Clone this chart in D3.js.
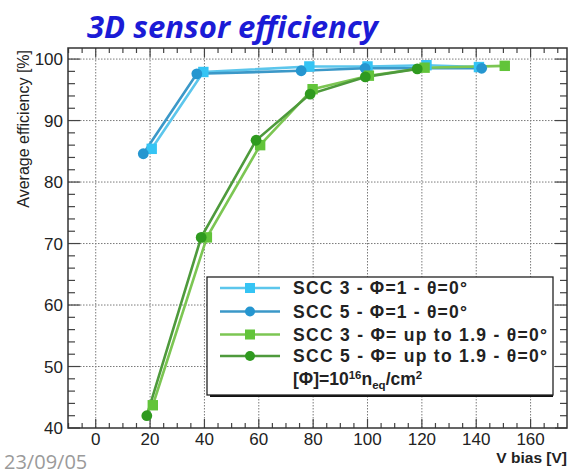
<!DOCTYPE html>
<html>
<head>
<meta charset="utf-8">
<script src="https://cdn.jsdelivr.net/npm/d3@7"></script>
<style>
  html, body { margin: 0; padding: 0; background: #fff; }
  svg { display: block; }
</style>
</head>
<body>
<svg id="chart" width="570" height="475"></svg>
<script>
// Efficiency vs bias voltage for two 3D sensors (SCC 3, SCC 5)
const xTicks = [0, 20, 40, 60, 80, 100, 120, 140, 160];
const yTicks = [40, 50, 60, 70, 80, 90, 100];

const scc3LowV   = [20.6, 39.6, 78.6, 100.0, 121.7, 141.0];
const scc3LowEff = [85.4, 97.9, 98.8, 98.8, 99.0, 98.7];
const scc5LowV   = [17.5, 37.2, 75.6, 99.1, 142.0];
const scc5LowEff = [84.6, 97.6, 98.1, 98.5, 98.5];

const scc3HighV   = [21.0, 40.9, 60.5, 79.8, 100.5, 121.0, 150.5];
const scc3HighEff = [43.7, 71.0, 86.0, 95.1, 97.3, 98.6, 98.9];
const scc5HighV   = [18.8, 38.8, 59.0, 78.9, 99.2, 118.3];
const scc5HighEff = [42.0, 71.0, 86.8, 94.3, 97.1, 98.4];

const seriesNames = [
  "SCC 3 - \u03A6=1 - \u03B8=0\u00B0",
  "SCC 5 - \u03A6=1 - \u03B8=0\u00B0",
  "SCC 3 - \u03A6= up to 1.9 - \u03B8=0\u00B0",
  "SCC 5 - \u03A6= up to 1.9 - \u03B8=0\u00B0"
];

(function () {
const series = [
  { name: seriesNames[0], x: scc3LowV,  y: scc3LowEff,  line: "#5cc6ec", fill: "#35c4f4", shape: "square", w: 174 },
  { name: seriesNames[1], x: scc5LowV,  y: scc5LowEff,  line: "#3b98c8", fill: "#2596d0", shape: "circle", w: 174 },
  { name: seriesNames[2], x: scc3HighV, y: scc3HighEff, line: "#7cc653", fill: "#62c43a", shape: "square", w: 254 },
  { name: seriesNames[3], x: scc5HighV, y: scc5HighEff, line: "#4e9a3c", fill: "#2f9a1f", shape: "circle", w: 254 }
];

const svg = d3.select("#chart");
const L = 68, T = 48, R = 567, B = 428;

const x = d3.scaleLinear().domain([-10.2, 173.4]).range([L, R]);
const y = d3.scaleLinear().domain([40, 101.8]).range([B, T]);

// Title
const title = svg.append("text")
  .attr("x", 87).attr("y", 38)
  .attr("font-family", "'Open Sans', 'DejaVu Sans', sans-serif")
  .attr("font-weight", "bold").attr("font-style", "italic")
  .attr("font-size", 30)
  .attr("fill", "#1b1bd6")
  .text("3D sensor efficiency");
{
  const w = title.node().getComputedTextLength();
  title.attr("font-size", 30 * 291 / w);
}

// Grid (dotted at major ticks)
const grid = svg.append("g").attr("stroke", "#7a7a7a").attr("stroke-width", 1)
  .attr("stroke-dasharray", "1.5,1.5");
grid.selectAll("line.gx").data(xTicks).join("line")
  .attr("x1", d => x(d)).attr("x2", d => x(d)).attr("y1", T).attr("y2", B);
grid.selectAll("line.gy").data(yTicks.filter(d => d > 40)).join("line")
  .attr("x1", L).attr("x2", R).attr("y1", d => y(d)).attr("y2", d => y(d));

// Axes with ticks on all four sides
const xMinor = d3.range(-10, 174, 5).filter(d => d % 20 !== 0);
const yMinor = d3.range(40, 102, 2).filter(d => d % 10 !== 0);

function ticksX(g, vals, len, dir) {
  g.selectAll(null).data(vals).join("line")
    .attr("x1", d => x(d)).attr("x2", d => x(d))
    .attr("y1", 0).attr("y2", dir * len);
}
const axisStyle = g => g.attr("stroke", "#444").attr("stroke-width", 1.2);

const axBottom = svg.append("g").attr("transform", `translate(0,${B})`).call(axisStyle);
ticksX(axBottom, xTicks, 9, -1);
ticksX(axBottom, xMinor, 5, -1);
const axTop = svg.append("g").attr("transform", `translate(0,${T})`).call(axisStyle);
ticksX(axTop, xTicks, 9, 1);
ticksX(axTop, xMinor, 5, 1);

function ticksY(g, vals, len, dir) {
  g.selectAll(null).data(vals).join("line")
    .attr("y1", d => y(d)).attr("y2", d => y(d))
    .attr("x1", 0).attr("x2", dir * len);
}
const axLeft = svg.append("g").attr("transform", `translate(${L},0)`).call(axisStyle);
ticksY(axLeft, yTicks, 12, 1);
ticksY(axLeft, yMinor, 7, 1);
const axRight = svg.append("g").attr("transform", `translate(${R},0)`).call(axisStyle);
ticksY(axRight, yTicks, 12, -1);
ticksY(axRight, yMinor, 7, -1);

// Frame
svg.append("rect").attr("x", L).attr("y", T).attr("width", R - L).attr("height", B - T)
  .attr("fill", "none").attr("stroke", "#333").attr("stroke-width", 1.5);

// Tick labels
const labelFont = "'Liberation Sans', Arial, Helvetica, sans-serif";
svg.append("g").selectAll("text").data(xTicks).join("text")
  .attr("x", d => x(d)).attr("y", 445)
  .attr("text-anchor", "middle")
  .attr("font-family", labelFont).attr("font-size", 17).attr("fill", "#222")
  .text(d => d);
svg.append("g").selectAll("text").data(yTicks).join("text")
  .attr("x", 63).attr("y", d => y(d) + 6)
  .attr("text-anchor", "end")
  .attr("font-family", labelFont).attr("font-size", 17).attr("fill", "#222")
  .text(d => d);

// Axis titles
svg.append("text")
  .attr("x", 567).attr("y", 463).attr("text-anchor", "end")
  .attr("font-family", labelFont).attr("font-weight", "bold")
  .attr("font-size", 15.5).attr("fill", "#222")
  .text("V bias [V]");
svg.append("text")
  .attr("transform", "translate(29,50) rotate(-90)")
  .attr("text-anchor", "end")
  .attr("font-family", labelFont).attr("font-size", 16).attr("fill", "#222")
  .text("Average efficiency [%]");

// Data series
const lineGen = d3.line().x(d => x(d[0])).y(d => y(d[1]));
function drawMarker(g, shape, fill, cx, cy, s) {
  if (shape === "square") {
    g.append("rect").attr("x", cx - s).attr("y", cy - s)
      .attr("width", 2 * s).attr("height", 2 * s).attr("fill", fill);
  } else {
    g.append("circle").attr("cx", cx).attr("cy", cy).attr("r", s).attr("fill", fill);
  }
}
const plot = svg.append("g");
series.forEach(s => {
  const pts = s.x.map((v, i) => [v, s.y[i]]);
  plot.append("path").datum(pts)
    .attr("d", lineGen).attr("fill", "none")
    .attr("stroke", s.line).attr("stroke-width", 2.6);
});
series.forEach(s => {
  s.x.forEach((v, i) => drawMarker(plot, s.shape, s.fill, x(v), y(s.y[i]),
    s.shape === "square" ? 5.2 : 5.4));
});

// Legend
const lg = svg.append("g");
lg.append("rect").attr("x", 210).attr("y", 393).attr("width", 343).attr("height", 4).attr("fill", "#111");
lg.append("rect").attr("x", 207).attr("y", 277).attr("width", 346).attr("height", 118)
  .attr("fill", "#fff").attr("stroke", "#222").attr("stroke-width", 1.3);
const rowY = [288, 311.5, 334.5, 356];
series.forEach((s, i) => {
  lg.append("line").attr("x1", 220).attr("x2", 280).attr("y1", rowY[i]).attr("y2", rowY[i])
    .attr("stroke", s.line).attr("stroke-width", 2.6);
  drawMarker(lg, s.shape, s.fill, 250, rowY[i], 5);
  lg.append("text").attr("x", 293).attr("y", rowY[i] + 6.2)
    .attr("font-family", labelFont).attr("font-weight", "bold")
    .attr("font-size", 17.5).attr("fill", "#222")
    .attr("textLength", s.w).attr("lengthAdjust", "spacing")
    .text(s.name);
});
const unit = lg.append("text").attr("x", 293).attr("y", 385)
  .attr("font-family", labelFont).attr("font-weight", "bold")
  .attr("font-size", 17.5).attr("fill", "#222");
unit.append("tspan").text("[\u03A6]=10");
unit.append("tspan").attr("font-size", 11.5).attr("dy", -6).text("16");
unit.append("tspan").attr("dy", 6).text("n");
unit.append("tspan").attr("font-size", 11.5).attr("dy", 4).text("eq");
unit.append("tspan").attr("dy", -4).text("/cm");
unit.append("tspan").attr("font-size", 11.5).attr("dy", -6).text("2");

// Date footer
svg.append("text").attr("x", 4).attr("y", 469)
  .attr("font-family", "'Open Sans', 'DejaVu Sans', sans-serif")
  .attr("font-size", 20).attr("fill", "#9a9a9a")
  .text("23/09/05");
})();
</script>
</body>
</html>
